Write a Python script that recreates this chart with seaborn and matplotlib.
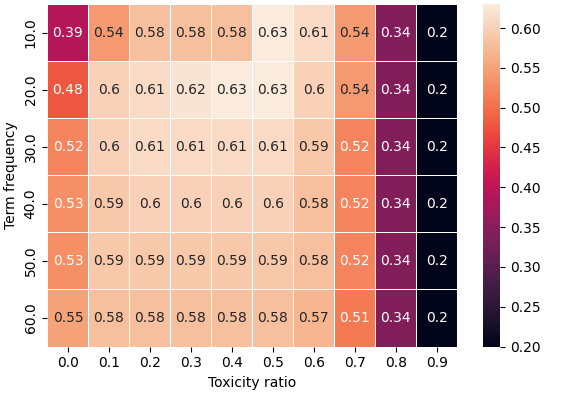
import numpy as np
import pandas as pd
import matplotlib
matplotlib.use("Agg")
import matplotlib.pyplot as plt
import seaborn as sns

term_frequency = [10.0, 20.0, 30.0, 40.0, 50.0, 60.0]
toxicity_ratio = [0.0, 0.1, 0.2, 0.3, 0.4, 0.5, 0.6, 0.7, 0.8, 0.9]

row_10 = [0.39, 0.54, 0.58, 0.58, 0.58, 0.63, 0.61, 0.54, 0.34, 0.2]
row_20 = [0.48, 0.6, 0.61, 0.62, 0.63, 0.63, 0.6, 0.54, 0.34, 0.2]
row_30 = [0.52, 0.6, 0.61, 0.61, 0.61, 0.61, 0.59, 0.52, 0.34, 0.2]
row_40 = [0.53, 0.59, 0.6, 0.6, 0.6, 0.6, 0.58, 0.52, 0.34, 0.2]
row_50 = [0.53, 0.59, 0.59, 0.59, 0.59, 0.59, 0.58, 0.52, 0.34, 0.2]
row_60 = [0.55, 0.58, 0.58, 0.58, 0.58, 0.58, 0.57, 0.51, 0.34, 0.2]

df = pd.DataFrame([row_10, row_20, row_30, row_40, row_50, row_60],
                  index=term_frequency, columns=toxicity_ratio)

fig, ax = plt.subplots(figsize=(5.64, 3.94), dpi=100)
sns.heatmap(df, annot=True, cmap="rocket", linewidths=0.5, linecolor="white", ax=ax)
ax.set_xlabel("Toxicity ratio")
ax.set_ylabel("Term frequency")
plt.setp(ax.get_yticklabels(), rotation=90, va="center")
plt.setp(ax.get_xticklabels(), rotation=0)
plt.tight_layout(pad=0.3)
plt.savefig("out.png")
